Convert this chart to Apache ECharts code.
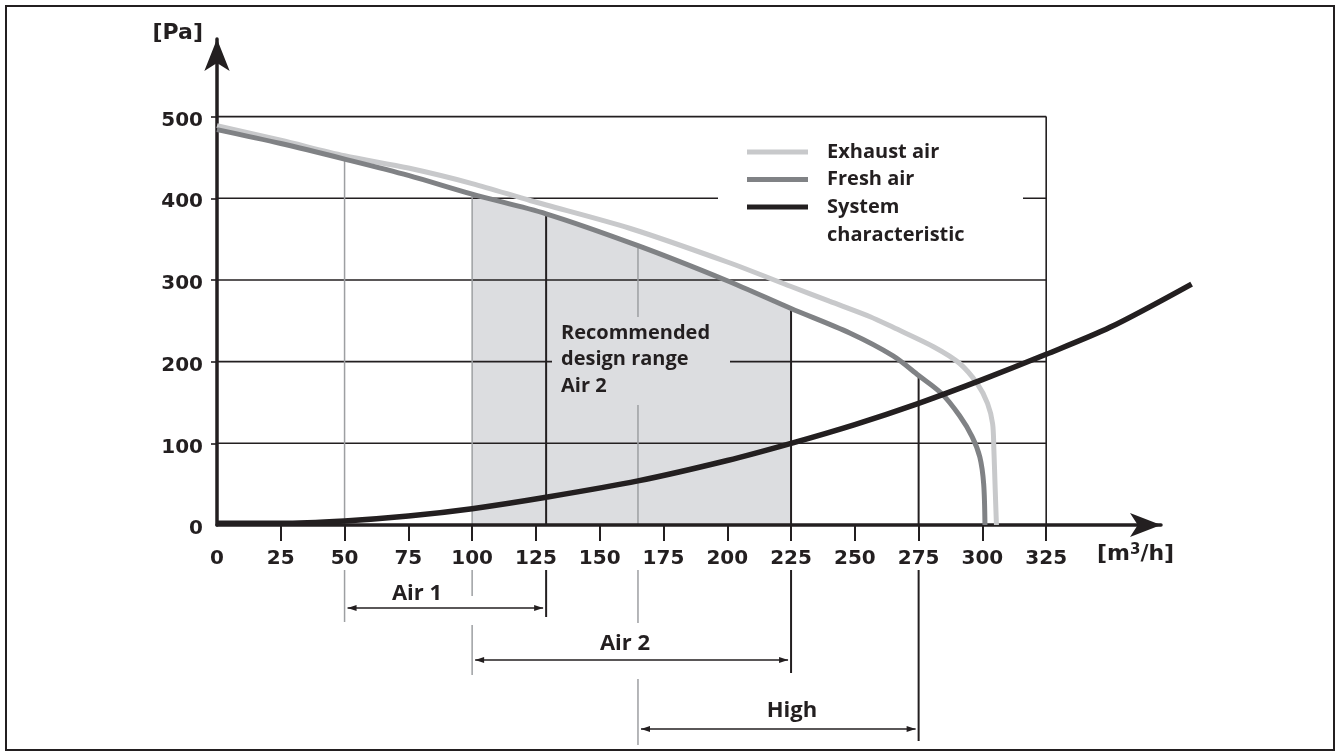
<!DOCTYPE html>
<html>
<head>
<meta charset="utf-8">
<title>Fan characteristic</title>
<script src="https://cdn.jsdelivr.net/npm/echarts@6/dist/echarts.min.js"></script>
<style>
  html, body { margin: 0; padding: 0; background: #fff; }
  #chart { width: 1338px; height: 756px; }
</style>
</head>
<body>
<div id="chart"></div>
<script>
// values: [air flow m3/h, pressure Pa]
const exhaustAir = [[0, 489], [25, 471], [50, 452], [75, 437], [100, 418], [123, 397], [162, 363], [200, 322], [225, 292], [240, 274], [256, 255], [265, 242], [281, 218], [291, 198], [298, 173], [302, 149], [304, 124], [304.5, 92], [305, 45], [305.5, 0]];
const freshAir = [[0, 484], [25, 467], [50, 448], [75, 428], [100, 405], [129, 381], [165, 342], [200, 299], [225, 265], [248, 235], [265, 207], [275, 183], [284, 161], [291, 134], [296, 108], [299, 83], [300.5, 50], [301, 0]];
const systemCharacteristic = [[0, 2], [25, 2], [50, 5], [75, 11], [100, 20], [129, 34], [165, 54], [200, 79], [225, 100], [250, 123], [275, 149], [300, 178], [325, 209], [350, 242], [382, 295]];
const seriesNames = ['Exhaust air', 'Fresh air', 'System characteristic'];

const xTickValues = [0, 25, 50, 75, 100, 125, 150, 175, 200, 225, 250, 275, 300, 325];
const yTickValues = [0, 100, 200, 300, 400, 500];

// vertical guides and the pressure where each one meets the fresh air curve
const guideX = [50, 100, 129, 165, 225, 275];
const guideTop = [447, 405, 381, 342, 265, 183];

// recommended design range (shaded under fresh air)
const shadeFrom = 100;
const shadeTo = 225;

// operating ranges under the axis
const rangeNames = ['Air 1', 'Air 2', 'High'];
const rangeFrom = [50, 100, 165];
const rangeTo = [129, 225, 275];

// ---- styling / layout ----
const INK = '#231f20';
const colors = ['#c8c9cb', '#808285', '#231f20'];
const SHADE = '#dcdde0';
const GUIDE_GRAY = '#9d9fa2';
const darkGuide = [false, false, true, false, true, true];
// pixel spans of the guides below the axis
const guideBelow = [
  [[570, 622]],
  [[570, 596], [625, 675]],
  [[570, 617]],
  [[570, 623], [679, 745]],
  [[570, 673]],
  [[570, 741]]
];
const rangeLayout = [
  { y: 608, labelX: 417, labelY: 594 },
  { y: 660, labelX: 625, labelY: 644 },
  { y: 729, labelX: 792, labelY: 711 }
];
const WORD_FONT = 'Open Sans';
const NUM_FONT = 'DejaVu Sans';
const smoothness = 0.3;
const X_MAX = 370;       // end of the drawn x axis (arrow)
const X_MAX_WIDE = 390;  // wider twin axis so the system curve can run past the arrow
const Y_MAX = 595;
const PLOT_LEFT = 217;
const PLOT_RIGHT = 177;
const PX_PER_UNIT = (1338 - PLOT_LEFT - PLOT_RIGHT) / X_MAX;

const chart = echarts.init(document.getElementById('chart'));

const hiddenAxis = {
  show: false,
  axisLine: { show: false },
  axisTick: { show: false },
  axisLabel: { show: false },
  splitLine: { show: false }
};

const option = {
  animation: false,
  backgroundColor: '#fff',
  grid: [
    { left: PLOT_LEFT, right: PLOT_RIGHT, top: 39, bottom: 231 },
    { left: PLOT_LEFT, right: 1338 - PLOT_LEFT - X_MAX_WIDE * PX_PER_UNIT, top: 39, bottom: 231 }
  ],
  xAxis: [{
    type: 'value',
    min: 0,
    max: X_MAX,
    z: 3,
    axisLine: {
      show: true,
      onZero: false,
      symbol: ['none', 'arrow'],
      symbolSize: [18, 31],
      lineStyle: { color: INK, width: 3.5 }
    },
    axisTick: {
      show: true,
      customValues: xTickValues.slice(1),
      length: 16,
      lineStyle: { color: INK, width: 2 }
    },
    axisLabel: {
      customValues: xTickValues,
      margin: 24,
      color: INK,
      fontFamily: NUM_FONT,
      fontWeight: 'bold',
      fontSize: 20
    },
    splitLine: { show: false }
  }, Object.assign({ type: 'value', gridIndex: 1, min: 0, max: X_MAX_WIDE }, hiddenAxis)],
  yAxis: [{
    type: 'value',
    min: 0,
    max: Y_MAX,
    z: 3,
    axisLine: {
      show: true,
      symbol: ['none', 'arrow'],
      symbolSize: [19, 32],
      lineStyle: { color: INK, width: 3.5 }
    },
    axisTick: {
      show: true,
      customValues: yTickValues.slice(1),
      length: 6,
      lineStyle: { color: INK, width: 1.6 }
    },
    axisLabel: {
      customValues: yTickValues,
      margin: 14,
      verticalAlign: 'top',
      lineHeight: 8,
      color: INK,
      fontFamily: NUM_FONT,
      fontWeight: 'bold',
      fontSize: 20
    },
    splitLine: { show: false }
  }, Object.assign({ type: 'value', gridIndex: 1, min: 0, max: Y_MAX }, hiddenAxis)],
  series: [
    {
      name: 'design range',
      type: 'line',
      data: freshAir.filter(p => p[0] >= shadeFrom && p[0] <= shadeTo),
      smooth: smoothness,
      symbol: 'none',
      silent: true,
      lineStyle: { width: 0 },
      areaStyle: { color: SHADE, opacity: 1 },
      z: 1
    },
    {
      // horizontal grid lines, box limited to the last ticks
      name: 'hgrid',
      type: 'custom',
      silent: true,
      z: 2,
      data: yTickValues.slice(1).map(v => [0, v]),
      renderItem: (params, api) => {
        const a = api.coord([0, api.value(1)]);
        const b = api.coord([xTickValues[xTickValues.length - 1], api.value(1)]);
        return { type: 'line', shape: { x1: a[0], y1: a[1], x2: b[0], y2: b[1] }, style: { stroke: INK, lineWidth: 1.6 } };
      }
    },
    {
      name: 'vgrid',
      type: 'custom',
      silent: true,
      z: 2,
      data: [[xTickValues[xTickValues.length - 1], yTickValues[yTickValues.length - 1]]],
      renderItem: (params, api) => {
        const a = api.coord([api.value(0), 0]);
        const b = api.coord([api.value(0), api.value(1)]);
        return { type: 'line', shape: { x1: a[0], y1: a[1], x2: b[0], y2: b[1] }, style: { stroke: INK, lineWidth: 1.6 } };
      }
    },
    {
      name: seriesNames[0],
      type: 'line',
      data: exhaustAir,
      smooth: smoothness,
      symbol: 'none',
      lineStyle: { color: colors[0], width: 5 },
      z: 5
    },
    {
      name: seriesNames[1],
      type: 'line',
      data: freshAir,
      smooth: smoothness,
      symbol: 'none',
      lineStyle: { color: colors[1], width: 5 },
      z: 5
    },
    {
      name: seriesNames[2],
      type: 'line',
      xAxisIndex: 1,
      yAxisIndex: 1,
      data: systemCharacteristic,
      smooth: smoothness,
      symbol: 'none',
      lineStyle: { color: colors[2], width: 5.5 },
      z: 6
    }
  ]
};

chart.setOption(option);

// overlay drawn from the axis scales
const px = v => chart.convertToPixel({ xAxisIndex: 0 }, v);
const py = v => chart.convertToPixel({ yAxisIndex: 0 }, v);
const graphics = [];

const wordText = (x, y, text, size, extra) => ({
  type: 'text', x: x, y: y, z: 8,
  style: Object.assign({
    text: text, fill: INK, fontFamily: WORD_FONT, fontWeight: 'bold', fontSize: size,
    align: 'left', verticalAlign: 'middle'
  }, extra || {})
});

// guides
guideX.forEach((gx, i) => {
  const x = px(gx);
  const stroke = darkGuide[i] ? INK : GUIDE_GRAY;
  const w = darkGuide[i] ? 2 : 1.5;
  graphics.push({ type: 'line', z: 3, shape: { x1: x, y1: py(guideTop[i]), x2: x, y2: py(0) }, style: { stroke: stroke, lineWidth: w } });
  guideBelow[i].forEach(seg => {
    graphics.push({ type: 'line', z: 3, shape: { x1: x, y1: seg[0], x2: x, y2: seg[1] }, style: { stroke: stroke, lineWidth: w } });
  });
});

// range arrows
rangeNames.forEach((name, i) => {
  const x0 = px(rangeFrom[i]) + 3;
  const x1 = px(rangeTo[i]) - 3;
  const y = rangeLayout[i].y;
  graphics.push({ type: 'line', z: 3, shape: { x1: x0, y1: y, x2: x1, y2: y }, style: { stroke: INK, lineWidth: 1.5 } });
  graphics.push({ type: 'polygon', z: 3, shape: { points: [[x0, y], [x0 + 9, y - 3], [x0 + 9, y + 3]] }, style: { fill: INK } });
  graphics.push({ type: 'polygon', z: 3, shape: { points: [[x1, y], [x1 - 9, y - 3], [x1 - 9, y + 3]] }, style: { fill: INK } });
  graphics.push(wordText(rangeLayout[i].labelX, rangeLayout[i].labelY, name, 22, { align: 'center' }));
});

// design range label box
graphics.push({ type: 'rect', z: 4, shape: { x: 552, y: 317, width: 178, height: 88 }, style: { fill: SHADE } });
graphics.push(wordText(561, 320, 'Recommended\ndesign range\n' + rangeNames[1], 20, { verticalAlign: 'top', lineHeight: 26.5 }));

// legend
graphics.push({ type: 'rect', z: 4, shape: { x: 718, y: 128, width: 305, height: 124 }, style: { fill: '#fff' } });
const legendY = [152, 179.5, 207];
seriesNames.forEach((name, i) => {
  const label = i === 2 ? name.replace(' ', '\n') : name;
  graphics.push({ type: 'line', z: 7, shape: { x1: 747, y1: legendY[i], x2: 808, y2: legendY[i] }, style: { stroke: colors[i], lineWidth: 5 } });
  graphics.push(wordText(827, legendY[i] - 14, label, 20, { verticalAlign: 'top', lineHeight: 28 }));
});

// axis units
graphics.push({
  type: 'text', x: 203, y: 33, z: 8,
  style: { text: '[Pa]', fill: INK, fontFamily: NUM_FONT, fontWeight: 'bold', fontSize: 22, align: 'right', verticalAlign: 'middle' }
});
graphics.push({
  type: 'text', x: 1097, y: 554, z: 8,
  style: {
    text: '[m{sup|3}/h]', fill: INK, fontFamily: NUM_FONT, fontWeight: 'bold', fontSize: 22,
    align: 'left', verticalAlign: 'middle',
    rich: { sup: { fontSize: 15, fontFamily: NUM_FONT, fontWeight: 'bold', fill: INK, verticalAlign: 'top' } }
  }
});

// outer frame
graphics.push({ type: 'rect', z: 10, shape: { x: 6, y: 6, width: 1328, height: 744 }, style: { fill: 'none', stroke: INK, lineWidth: 2 } });

chart.setOption({ graphic: graphics });
</script>
</body>
</html>
